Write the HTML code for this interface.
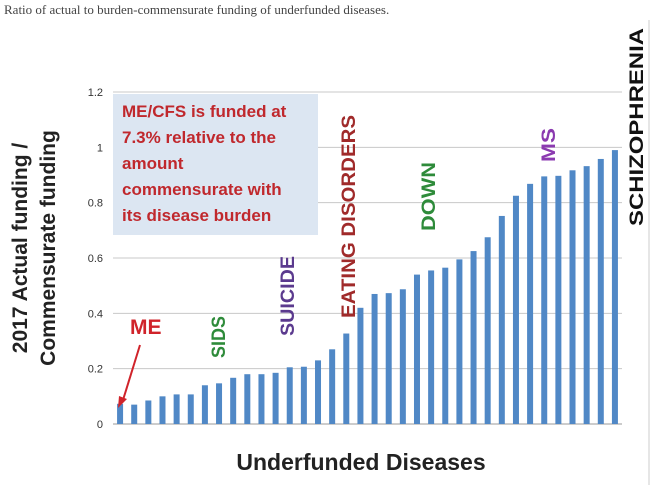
<!DOCTYPE html>
<html><head><meta charset="utf-8"><style>
body{margin:0;background:#fff;width:654px;height:491px;overflow:hidden}
svg{display:block}
</style></head><body>
<svg width="654" height="491" xmlns="http://www.w3.org/2000/svg">
<text x="4" y="14" font-family="Liberation Serif, serif" font-size="13" fill="#444">Ratio of actual to burden-commensurate funding of underfunded diseases.</text>
<line x1="649" y1="20" x2="649" y2="485" stroke="#ccc"/>
<g id="grid"></g>
<rect x="113" y="94" width="205" height="141" fill="#dce6f2"/>
<g font-family="Liberation Sans, sans-serif" font-weight="bold" font-size="17" fill="#c0282d">
<text x="122" y="117">ME/CFS is funded at</text>
<text x="122" y="143">7.3% relative to the</text>
<text x="122" y="169">amount</text>
<text x="122" y="195">commensurate with</text>
<text x="122" y="221">its disease burden</text>
</g>
<g id="bars"></g>
<g font-family="Liberation Sans, sans-serif" font-weight="bold">
<text x="130" y="334" font-size="21" fill="#d0232a">ME</text>
<line x1="140" y1="345" x2="123" y2="400" stroke="#d0232a" stroke-width="2"/>
<polygon points="118,408 119,396 127,399" fill="#d0232a"/>
<text transform="translate(225,358) rotate(-90)" font-size="19" fill="#2e8b3a" textLength="42" lengthAdjust="spacingAndGlyphs">SIDS</text>
<text transform="translate(294,336) rotate(-90)" font-size="19" fill="#5b3a8e" textLength="80" lengthAdjust="spacingAndGlyphs">SUICIDE</text>
<text transform="translate(355,318) rotate(-90)" font-size="19" fill="#a02a2a" textLength="203" lengthAdjust="spacingAndGlyphs">EATING DISORDERS</text>
<text transform="translate(435,231) rotate(-90)" font-size="19" fill="#2e8b3a" textLength="69" lengthAdjust="spacingAndGlyphs">DOWN</text>
<text transform="translate(555,162) rotate(-90)" font-size="19" fill="#8b3ab0" textLength="34" lengthAdjust="spacingAndGlyphs">MS</text>
<text transform="translate(643,226) rotate(-90)" font-size="19" fill="#111" textLength="198" lengthAdjust="spacingAndGlyphs">SCHIZOPHRENIA</text>
<text transform="translate(27,248) rotate(-90)" text-anchor="middle" font-size="21" fill="#222">2017 Actual funding /</text>
<text transform="translate(55,248) rotate(-90)" text-anchor="middle" font-size="21" fill="#222">Commensurate funding</text>
<text x="361" y="470" text-anchor="middle" font-size="23" fill="#222">Underfunded Diseases</text>
</g>
</svg>
<script>
const values=[0.073,0.07,0.085,0.1,0.107,0.107,0.14,0.147,0.167,0.18,0.18,0.185,0.205,0.207,0.23,0.27,0.327,0.42,0.47,0.473,0.487,0.54,0.555,0.565,0.595,0.625,0.675,0.752,0.825,0.868,0.895,0.897,0.917,0.932,0.958,0.99];
const ticks=[0,0.2,0.4,0.6,0.8,1,1.2];
const tickLabels=["0","0.2","0.4","0.6","0.8","1","1.2"];
const NS="http://www.w3.org/2000/svg";
const y0=424,y1=92,xl=113,xr=622;
const ys=v=>y0-(y0-y1)*v/1.2;
const step=(xr-xl)/values.length;
const xs=i=>xl+step*(i+0.5);
const g=document.getElementById('grid');
ticks.forEach((t,i)=>{
 const l=document.createElementNS(NS,'line');
 l.setAttribute('x1',xl);l.setAttribute('x2',xr);l.setAttribute('y1',ys(t));l.setAttribute('y2',ys(t));
 l.setAttribute('stroke',i==0?'#999':'#c8c8c8');
 
 
 g.appendChild(l);
 const tx=document.createElementNS(NS,'text');
 tx.setAttribute('x',103);tx.setAttribute('y',ys(t)+4);tx.setAttribute('text-anchor','end');
 tx.setAttribute('font-family','Liberation Sans, sans-serif');tx.setAttribute('font-size','11');tx.setAttribute('fill','#333');
 tx.textContent=tickLabels[i];
 
 
 g.appendChild(tx);
});
const b=document.getElementById('bars');
values.forEach((v,i)=>{
 const r=document.createElementNS(NS,'rect');
 r.setAttribute('x',xs(i)-3);r.setAttribute('width',6);
 r.setAttribute('y',ys(v));r.setAttribute('height',y0-ys(v));
 r.setAttribute('fill','#5088c6');
 
 
 b.appendChild(r);
});
</script>
</body></html>
